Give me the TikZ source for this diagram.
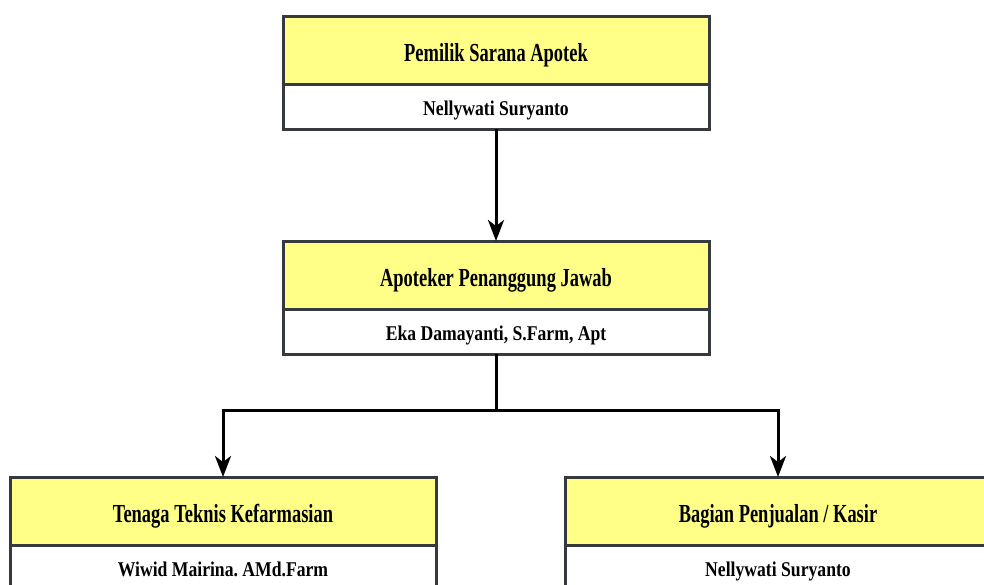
\documentclass[tikz,border=0pt]{standalone}
\usepackage{fontspec}
\usetikzlibrary{positioning,arrows.meta}
\newfontfamily\titlefont{Liberation Serif}[FakeStretch=0.71]
\newfontfamily\namefont{Liberation Serif}[FakeStretch=0.84]
\definecolor{boxyellow}{HTML}{FFFF88}
\definecolor{boxline}{HTML}{36393D}
\frenchspacing
\tikzset{
  titlebox/.style={draw=boxline,line width=3pt,fill=boxyellow,minimum width=426pt,minimum height=68pt,inner sep=0pt,outer sep=0pt,text height=22pt,text depth=0pt,font=\titlefont\bfseries\fontsize{26}{30}\selectfont},
  namebox/.style={draw=boxline,line width=3pt,fill=white,minimum width=426pt,minimum height=45pt,inner sep=0pt,outer sep=0pt,text height=17pt,text depth=0pt,font=\namefont\bfseries\fontsize{21}{25}\selectfont},
  link/.style={line width=3pt,black}
}
\begin{document}
\begin{tikzpicture}[x=1pt,y=-1pt,>={Stealth[length=21pt,width=16pt,inset=6pt]}]
    \useasboundingbox (0,0) rectangle (984,584);
    \node[titlebox] (pemilik) at (496,50) {Pemilik Sarana Apotek};
    \node[namebox,below=0pt of pemilik] (pemilikname) {Nellywati Suryanto};
    \node[titlebox,below=112pt of pemilikname] (apoteker) {Apoteker Penanggung Jawab};
    \node[namebox,below=0pt of apoteker] (apotekername) {Eka Damayanti, S.Farm, Apt};
    \node[titlebox] (ttk) at (223,511) {Tenaga Teknis Kefarmasian};
    \node[namebox,below=0pt of ttk] (ttkname) {Wiwid Mairina. AMd.Farm};
    \node[titlebox] (kasir) at (778,511) {Bagian Penjualan / Kasir};
    \node[namebox,below=0pt of kasir] (kasirname) {Nellywati Suryanto};
    \draw[link,->] (pemilikname) -- (apoteker);
    \draw[link] (apotekername.south) -- ++(0,56) coordinate (split);
    \draw[link,->] (split) -| (ttk.north);
    \draw[link,->] (split) -| (kasir.north);
\end{tikzpicture}
\end{document}
